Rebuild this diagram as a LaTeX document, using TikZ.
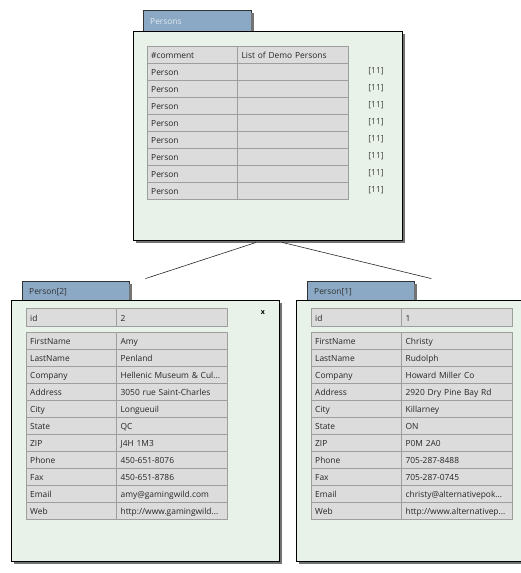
\documentclass[tikz,border=0pt]{standalone}
\usepackage{fontspec}
\setmainfont{Open Sans}
\usetikzlibrary{positioning,calc,shadows}

\definecolor{panelfill}{RGB}{233,242,233}
\definecolor{cellfill}{RGB}{220,220,220}
\definecolor{cellline}{RGB}{158,158,158}
\definecolor{tabfill}{RGB}{139,169,196}
\definecolor{tabtext}{RGB}{226,233,241}

\begin{document}
\begin{tikzpicture}[
  x=1pt,y=-1pt,
  font=\fontsize{8.4}{10}\selectfont,
  panel/.style={draw=black,fill=panelfill,anchor=north west,inner sep=0pt,
                minimum width=268,minimum height=261,
                drop shadow={shadow xshift=3pt,shadow yshift=-3pt,fill=black!55,opacity=1}},
  tab/.style={fill=tabfill,anchor=south west,inner xsep=7pt,inner ysep=0pt,
              minimum height=18,text width=93,align=left,text=black!80,
              text height=8.5pt,text depth=0.5pt},
  tabline/.style={draw=black!80,line width=0.6pt},
  cell/.style={draw=cellline,fill=cellfill,anchor=north west,minimum height=17,
               inner xsep=4pt,inner ysep=0pt,align=left,text=black!85,
               text height=8.8pt,text depth=0.6pt},
  key/.style={cell,text width=82},
  val/.style={cell,text width=103},
  count/.style={text=black!75},
  link/.style={draw=black!85,line width=0.6pt},
]
\useasboundingbox (0,0) rectangle (520,573);

% ---- root object (top) --------------------------------------------------
\node[panel,minimum width=269,minimum height=209] (persons) at (133,31) {};
\node[tab,text width=94,minimum height=20,text=tabtext] (pstab)
   at ($(persons.north west)+(10,0)$) {Persons};
\draw[tabline] (pstab.south west) |- (pstab.north east) -- (pstab.south east);
\fill[black!55] ($(pstab.north east)+(0,2)$) rectangle ($(pstab.south east)+(3,0)$);

\node[key] (pk0) at (147,46) {\#comment};
\node[val,right=0pt of pk0] (pv0) {List of Demo Persons};
\foreach \i in {1,...,8}{
  \node[key] (pk\i) at (147,{46+17*\i}) {Person};
  \node[val,right=0pt of pk\i] (pv\i) {};
  \node[count] (pn\i) at (376,{54+17*\i}) {[11]};
}

% ---- child object Person[2] (left) ---------------------------------------
\node[panel] (p2) at (11,300) {};
\node[tab] (p2tab) at ($(p2.north west)+(11,0)$) {Person[2]};
\draw[tabline] (p2tab.south west) |- (p2tab.north east) -- (p2tab.south east);
\fill[black!55] ($(p2tab.north east)+(0,2)$) rectangle ($(p2tab.south east)+(3,0)$);
\node[font=\bfseries\fontsize{7}{8}\selectfont] (p2close) at ($(p2.north west)+(252,13)$) {x};

\node[key,minimum height=18] (p2idk) at ($(p2.north west)+(15,8)$) {id};
\node[val,minimum height=18,right=0pt of p2idk] (p2idv) {2};
\foreach \k/\v [count=\i] in {FirstName/Amy, LastName/Penland,
    Company/{Hellenic Museum \& Cul...}, Address/{3050 rue Saint-Charles},
    City/Longueuil, State/QC, ZIP/{J4H 1M3}, Phone/450-651-8076,
    Fax/450-651-8786, Email/{amy@gamingwild.com}, Web/{http://www.gamingwild...}}{
  \node[key] (p2k\i) at ($(p2.north west)+(15,{15+17*\i})$) {\k};
  \node[val,right=0pt of p2k\i] (p2v\i) {\v};
}

% ---- child object Person[1] (right) --------------------------------------
\node[panel] (p1) at (296,300) {};
\node[tab] (p1tab) at ($(p1.north west)+(11,0)$) {Person[1]};
\draw[tabline] (p1tab.south west) |- (p1tab.north east) -- (p1tab.south east);
\fill[black!55] ($(p1tab.north east)+(0,2)$) rectangle ($(p1tab.south east)+(3,0)$);

\node[key,minimum height=18] (p1idk) at ($(p1.north west)+(15,8)$) {id};
\node[val,minimum height=18,right=0pt of p1idk] (p1idv) {1};
\foreach \k/\v [count=\i] in {FirstName/Christy, LastName/Rudolph,
    Company/{Howard Miller Co}, Address/{2920 Dry Pine Bay Rd},
    City/Killarney, State/ON, ZIP/{P0M 2A0}, Phone/705-287-8488,
    Fax/705-287-0745, Email/{christy@alternativepok...}, Web/{http://www.alternativep...}}{
  \node[key] (p1k\i) at ($(p1.north west)+(15,{15+17*\i})$) {\k};
  \node[val,right=0pt of p1k\i] (p1v\i) {\v};
}

% ---- links root -> children ----------------------------------------------
\coordinate (lkL) at ($(persons.south)+(-11.5,2)$);
\coordinate (lkR) at ($(persons.south)+(14.5,2)$);
\coordinate (p2end) at ($(p2tab.north east)+(16,-3)$);
\coordinate (p1end) at ($(p1tab.north east)+(17,-3)$);
\draw[link] (lkL) -- (p2end);
\draw[link] (lkR) -- (p1end);

\end{tikzpicture}
\end{document}
